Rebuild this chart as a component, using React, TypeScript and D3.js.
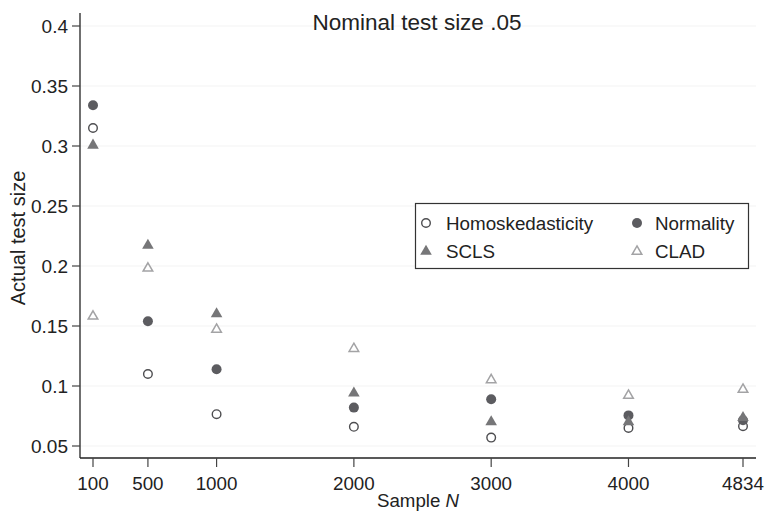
import React from "react";
import * as d3 from "d3";

const sampleN = [100, 500, 1000, 2000, 3000, 4000, 4834];
const homoskedasticity = [0.315, 0.11, 0.0765, 0.066, 0.057, 0.065, 0.0665];
const normality = [0.334, 0.154, 0.114, 0.082, 0.089, 0.0755, 0.0715];
const scls = [0.301, 0.2175, 0.1605, 0.0945, 0.0705, 0.0705, 0.074];
const clad = [0.1585, 0.1985, 0.1475, 0.1315, 0.1055, 0.0925, 0.0975];
const yTicks = [0.05, 0.1, 0.15, 0.2, 0.25, 0.3, 0.35, 0.4];
const yTickLabels = ["0.05", "0.1", "0.15", "0.2", "0.25", "0.3", "0.35", "0.4"];
const xTickLabels = ["100", "500", "1000", "2000", "3000", "4000", "4834"];

const FONT = "'Liberation Sans', Arial, Helvetica, sans-serif";

const C_HOLLOW = "#4d4d50";
const C_FILLED = "#5c5c60";
const C_SCLS = "#767678";
const C_CLAD = "#a3a3a5";

const triPath = d3.symbol(d3.symbolTriangle, 58)() as string;
const triHollowPath = d3.symbol(d3.symbolTriangle, 40)() as string;

function HollowCircle({ x, y }: { x: number; y: number }) {
  return <circle cx={x} cy={y} r={4.3} fill="#fff" stroke={C_HOLLOW} strokeWidth={1.4} />;
}
function FilledCircle({ x, y }: { x: number; y: number }) {
  return <circle cx={x} cy={y} r={5} fill={C_FILLED} />;
}
function FilledTri({ x, y }: { x: number; y: number }) {
  return <path d={triPath} transform={`translate(${x},${y + 0.5})`} fill={C_SCLS} />;
}
function HollowTri({ x, y }: { x: number; y: number }) {
  return (
    <path d={triHollowPath} transform={`translate(${x},${y + 0.5})`} fill="#fff" stroke={C_CLAD} strokeWidth={1.5} />
  );
}

export default function App() {
  const x = d3.scaleLinear().domain([100, 4834]).range([93, 743]);
  const y = d3.scaleLinear().domain([0.05, 0.4]).range([446, 26]);
  const axisX = 80;
  const axisY = 458;

  return (
    <svg
      width={765}
      height={518}
      style={{ position: "absolute", left: 0, top: 0, background: "#fff" }}
      fontFamily={FONT}
    >
      <rect x={0} y={0} width={765} height={518} fill="#fff" />
      {yTicks.map((t) => (
        <line key={"g" + t} x1={axisX} x2={756} y1={y(t)} y2={y(t)} stroke="#f3f3f3" strokeWidth={1} />
      ))}
      <line x1={axisX} x2={axisX} y1={13} y2={axisY} stroke="#222" strokeWidth={1.3} />
      {yTicks.map((t, i) => (
        <g key={"y" + t}>
          <line x1={72} x2={axisX} y1={y(t)} y2={y(t)} stroke="#444" strokeWidth={1.2} />
          <text x={68} y={y(t)} dy="0.35em" textAnchor="end" fontSize={19} fill="#222">
            {yTickLabels[i]}
          </text>
        </g>
      ))}
      <line x1={axisX} x2={756} y1={axisY} y2={axisY} stroke="#222" strokeWidth={1.3} />
      {sampleN.map((n, i) => (
        <g key={"x" + n}>
          <line x1={x(n)} x2={x(n)} y1={axisY} y2={467} stroke="#444" strokeWidth={1.2} />
          <text x={x(n)} y={490} textAnchor="middle" fontSize={18.8} fill="#222">
            {xTickLabels[i]}
          </text>
        </g>
      ))}
      <text x={417} y={30} textAnchor="middle" fontSize={22.5} fill="#222">
        Nominal test size .05
      </text>
      <text x={418} y={507} textAnchor="middle" fontSize={18.7} fill="#222">
        Sample <tspan fontStyle="italic">N</tspan>
      </text>
      <text transform={`translate(25,238) rotate(-90)`} textAnchor="middle" fontSize={20} fill="#222">
        Actual test size
      </text>
      {sampleN.map((n, i) => (
        <HollowCircle key={"h" + n} x={x(n)} y={y(homoskedasticity[i])} />
      ))}
      {sampleN.map((n, i) => (
        <FilledCircle key={"n" + n} x={x(n)} y={y(normality[i])} />
      ))}
      {sampleN.map((n, i) => (
        <FilledTri key={"s" + n} x={x(n)} y={y(scls[i])} />
      ))}
      {sampleN.map((n, i) => (
        <HollowTri key={"c" + n} x={x(n)} y={y(clad[i])} />
      ))}
      <rect x={415.5} y={203.5} width={333} height={65} fill="#fff" stroke="#333" strokeWidth={1.2} />
      <HollowCircle x={426} y={223} />
      <text x={446} y={223} dy="0.36em" fontSize={18.8} fill="#222">Homoskedasticity</text>
      <FilledCircle x={637} y={223} />
      <text x={655} y={223} dy="0.36em" fontSize={18.8} fill="#222">Normality</text>
      <FilledTri x={426} y={251} />
      <text x={446} y={251} dy="0.36em" fontSize={18.8} fill="#222">SCLS</text>
      <HollowTri x={637} y={251} />
      <text x={655} y={251} dy="0.36em" fontSize={18.8} fill="#222">CLAD</text>
    </svg>
  );
}
